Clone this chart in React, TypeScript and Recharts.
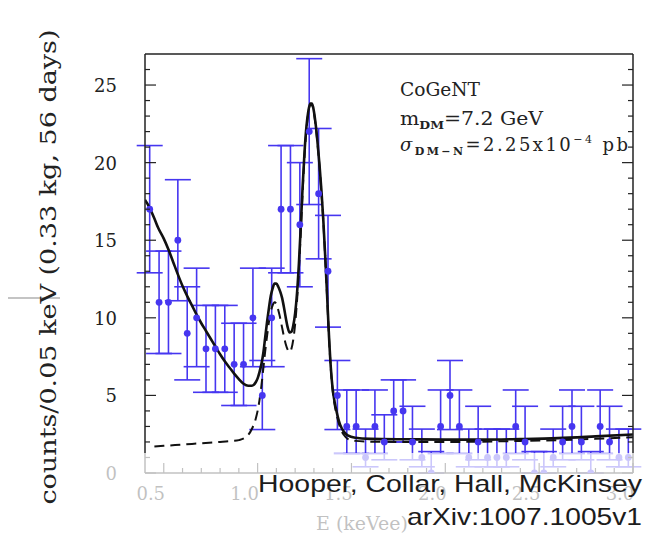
import React from 'react';
import { ComposedChart, XAxis, YAxis, Scatter, Line, ErrorBar } from 'recharts';

// Energy bin centres (keVee), 0.05 keV bins
const binCenters = [
  0.425, 0.475, 0.525, 0.575, 0.625, 0.675, 0.725, 0.775, 0.825, 0.875,
  0.925, 0.975, 1.025, 1.075, 1.125, 1.175, 1.225, 1.275, 1.325, 1.375,
  1.425, 1.475, 1.525, 1.575, 1.625, 1.675, 1.725, 1.775, 1.825, 1.875,
  1.925, 1.975, 2.025, 2.075, 2.125, 2.175, 2.225, 2.275, 2.325, 2.375,
  2.425, 2.475, 2.525, 2.575, 2.625, 2.675, 2.725, 2.775, 2.825, 2.875,
  2.925, 2.975,
];

// Counts per bin
const counts = [
  17, 11, 11, 15, 9, 10, 8, 8, 8, 7,
  7, 10, 5, 10, 17, 17, 16, 22, 18, 13,
  5, 3, 3, 1, 3, 2, 4, 4, 2, 1,
  0, 3, 5, 3, 1, 2, 1, 1, 1, 3,
  2, 0, 0, 1, 2, 3, 2, 0, 3, 2,
  1, 1,
];

// Lower and upper ends of the error interval for each bin
const lowerBounds = [
  12.9, 7.7, 7.7, 11.1, 6.0, 6.85, 5.2, 5.2, 5.2, 4.35,
  4.35, 6.85, 2.8, 6.85, 12.9, 12.9, 12.0, 17.3, 13.8, 9.4,
  2.8, 1.25, 1.25, 0.4, 1.25, 0.85, 2.0, 2.0, 0.85, 0.4,
  0.0, 1.25, 2.8, 1.25, 0.4, 0.85, 0.4, 0.4, 0.4, 1.25,
  0.85, 0.0, 0.0, 0.4, 0.85, 1.25, 0.85, 0.0, 1.25, 0.85,
  0.4, 0.4,
];
const upperBounds = [
  21.1, 14.3, 14.3, 18.9, 12.0, 13.2, 10.8, 10.8, 10.8, 9.65,
  9.65, 13.2, 7.25, 13.2, 21.1, 21.1, 20.0, 26.7, 22.2, 16.6,
  7.25, 5.35, 5.35, 2.83, 5.35, 3.75, 6.0, 6.0, 4.3, 2.83,
  1.38, 5.35, 7.25, 5.35, 2.83, 4.3, 2.83, 2.83, 2.83, 5.35,
  4.3, 1.38, 1.38, 2.83, 4.3, 5.35, 4.3, 1.38, 5.35, 4.3,
  2.83, 2.83,
];

// Total model (dark matter + background): energy and counts
const modelE = [
  0.40, 0.42, 0.45, 0.47, 0.50, 0.525, 0.55, 0.575, 0.60, 0.625,
  0.65, 0.675, 0.70, 0.725, 0.75, 0.775, 0.80, 0.825, 0.85, 0.875,
  0.90, 0.925, 0.95, 0.97, 0.99, 1.00, 1.01, 1.02, 1.03, 1.04,
  1.05, 1.06, 1.07, 1.08, 1.09, 1.10, 1.11, 1.12, 1.13, 1.14,
  1.15, 1.16, 1.17, 1.18, 1.19, 1.20, 1.21, 1.22, 1.23, 1.24,
  1.25, 1.26, 1.27, 1.28, 1.29, 1.30, 1.31, 1.32, 1.33, 1.34,
  1.35, 1.36, 1.37, 1.38, 1.39, 1.40, 1.41, 1.42, 1.44, 1.46,
  1.48, 1.52, 1.60, 1.80, 2.00, 2.20, 2.40, 2.60, 2.80, 3.00,
];
const modelV = [
  17.6, 17.2, 16.4, 15.8, 15.1, 14.4, 13.6, 12.8, 12.05, 11.4,
  10.8, 10.2, 9.65, 9.15, 8.65, 8.15, 7.65, 7.2, 6.8, 6.4,
  6.05, 5.75, 5.62, 5.62, 5.85, 6.1, 6.5, 7.0, 7.7, 8.7,
  9.7, 10.6, 11.4, 11.9, 12.2, 12.2, 12.0, 11.7, 11.3, 10.7,
  10.0, 9.4, 9.05, 9.1, 9.5, 10.3, 11.6, 13.5, 15.9, 18.5,
  20.7, 22.3, 23.3, 23.8, 23.8, 23.3, 22.4, 21.2, 19.8, 18.2,
  16.3, 14.0, 11.5, 8.9, 6.8, 5.4, 4.6, 4.0, 3.1, 2.65,
  2.42, 2.27, 2.2, 2.17, 2.15, 2.15, 2.19, 2.25, 2.36, 2.48,
];

// Background only (cosmogenic L-shell + K-shell lines + flat)
const backgroundE = [
  0.45, 0.50, 0.60, 0.70, 0.80, 0.86, 0.90, 0.93, 0.95, 0.97,
  0.99, 1.00, 1.01, 1.02, 1.03, 1.04, 1.05, 1.06, 1.07, 1.08,
  1.09, 1.10, 1.11, 1.12, 1.13, 1.14, 1.15, 1.16, 1.17, 1.18,
  1.19, 1.20, 1.21, 1.22, 1.23, 1.24, 1.25, 1.26, 1.27, 1.28,
  1.29, 1.30, 1.31, 1.32, 1.33, 1.34, 1.35, 1.36, 1.37, 1.38,
  1.39, 1.40, 1.41, 1.42, 1.44, 1.46, 1.48, 1.52, 1.60, 1.80,
  2.00, 2.20, 2.40, 2.60, 2.80, 3.00,
];
const backgroundV = [
  1.7, 1.75, 1.83, 1.92, 2.0, 2.06, 2.12, 2.25, 2.45, 2.85,
  3.5, 4.0, 4.7, 5.6, 6.7, 7.8, 8.8, 9.7, 10.4, 10.8,
  11.0, 10.9, 10.5, 10.0, 9.4, 8.8, 8.3, 7.95, 7.8, 8.0,
  8.6, 9.6, 11.1, 13.1, 15.5, 18.1, 20.4, 22.1, 23.2, 23.7,
  23.7, 23.2, 22.3, 21.1, 19.7, 18.1, 16.2, 13.9, 11.4, 8.8,
  6.7, 5.3, 4.4, 3.8, 2.9, 2.45, 2.2, 2.07, 2.02, 2.0,
  2.0, 2.02, 2.07, 2.12, 2.2, 2.3,
];

// Axis ticks: majors every 0.5 keV / 5 counts, minors every 0.1 keV / 1 count
const xTicks = [
  0.5, 0.6, 0.7, 0.8, 0.9, 1.0, 1.1, 1.2, 1.3, 1.4, 1.5, 1.6, 1.7,
  1.8, 1.9, 2.0, 2.1, 2.2, 2.3, 2.4, 2.5, 2.6, 2.7, 2.8, 2.9, 3.0,
];
const yTicks = [
  0, 1, 2, 3, 4, 5, 6, 7, 8, 9, 10, 11, 12, 13, 14, 15, 16, 17, 18,
  19, 20, 21, 22, 23, 24, 25, 26,
];

const dataPoints = binCenters.map((e, i) => ({
  e,
  v: counts[i],
  err: [counts[i] - lowerBounds[i], upperBounds[i] - counts[i]],
}));
const modelCurve = modelE.map((e, i) => ({ e, v: modelV[i] }));
const backgroundCurve = backgroundE.map((e, i) => ({ e, v: backgroundV[i] }));

const SERIF = '"DejaVu Serif", "Liberation Serif", serif';
const SANS = '"Liberation Sans", Arial, sans-serif';
const AXIS = '#222';
const BLUE = '#4636f0';
const W = 649;
const H = 532;

const isMajor = (v: number, step: number) =>
  Math.abs(v / step - Math.round(v / step)) < 1e-6;

function BottomTick(props: any) {
  const { x, y, payload } = props;
  const major = isMajor(payload.value, 0.5);
  return (
    <g>
      <line x1={x} x2={x} y1={y} y2={y - (major ? 10 : 5)} stroke={AXIS} strokeWidth={1.2} />
      {major && (
        <text x={x - 13} y={y + 27} textAnchor="middle" fontFamily={SERIF} fontSize={18} fill="#222">
          {payload.value.toFixed(1)}
        </text>
      )}
    </g>
  );
}

function TopTick(props: any) {
  const { x, y, payload } = props;
  const major = isMajor(payload.value, 0.5);
  return <line x1={x} x2={x} y1={y} y2={y + (major ? 10 : 5)} stroke={AXIS} strokeWidth={1.2} />;
}

function LeftTick(props: any) {
  const { x, y, payload } = props;
  const major = isMajor(payload.value, 5);
  return (
    <g>
      <line x1={x} x2={x + (major ? 11 : 5)} y1={y} y2={y} stroke={AXIS} strokeWidth={1.2} />
      {major && (
        <text x={x - 28} y={y + 7} textAnchor="end" fontFamily={SERIF} fontSize={18} fill="#222">
          {payload.value}
        </text>
      )}
    </g>
  );
}

function RightTick(props: any) {
  const { x, y, payload } = props;
  const major = isMajor(payload.value, 5);
  return <line x1={x} x2={x - (major ? 11 : 5)} y1={y} y2={y} stroke={AXIS} strokeWidth={1.2} />;
}

const Dot = (props: any) => {
  const { cx, cy } = props;
  if (cx == null || cy == null) return <g />;
  return <circle cx={cx} cy={cy} r={3.4} fill={BLUE} />;
};

export default function App() {
  return (
    <div style={{ position: 'relative', width: W, height: H }}>
      <ComposedChart
        width={W}
        height={H}
        margin={{ top: 45, right: 23, bottom: 37, left: 77 }}
        style={{ background: '#fff' }}
      >
        <XAxis
          dataKey="e"
          type="number"
          domain={[0.4, 3.0]}
          allowDataOverflow
          ticks={xTicks}
          interval={0}
          height={30}
          tickSize={0}
          tickMargin={0}
          tickLine={false}
          axisLine={{ stroke: AXIS, strokeWidth: 1.5 }}
          tick={<BottomTick />}
        />
        <XAxis
          xAxisId="t"
          orientation="top"
          type="number"
          domain={[0.4, 3.0]}
          allowDataOverflow
          ticks={xTicks}
          interval={0}
          height={1}
          tickSize={0}
          tickMargin={0}
          tickLine={false}
          axisLine={{ stroke: AXIS, strokeWidth: 1.5 }}
          tick={<TopTick />}
        />
        <YAxis
          dataKey="v"
          type="number"
          domain={[0, 27]}
          allowDataOverflow
          ticks={yTicks}
          interval={0}
          width={60}
          tickSize={0}
          tickMargin={0}
          tickLine={false}
          axisLine={{ stroke: AXIS, strokeWidth: 1.5 }}
          tick={<LeftTick />}
        />
        <YAxis
          yAxisId="r"
          orientation="right"
          type="number"
          domain={[0, 27]}
          allowDataOverflow
          ticks={yTicks}
          interval={0}
          width={1}
          tickSize={0}
          tickMargin={0}
          tickLine={false}
          axisLine={{ stroke: AXIS, strokeWidth: 1.5 }}
          tick={<RightTick />}
        />
        <Scatter data={dataPoints} dataKey="v" shape={<Dot />} isAnimationActive={false}>
          <ErrorBar dataKey="err" direction="y" width={13} stroke={BLUE} strokeWidth={1.6} />
        </Scatter>
        <Line
          data={backgroundCurve}
          dataKey="v"
          type="monotone"
          stroke="#111"
          strokeWidth={2}
          strokeDasharray="10 6"
          dot={false}
          activeDot={false}
          isAnimationActive={false}
        />
        <Line
          data={modelCurve}
          dataKey="v"
          type="monotone"
          stroke="#111"
          strokeWidth={2.6}
          dot={false}
          activeDot={false}
          isAnimationActive={false}
        />
      </ComposedChart>

      <svg
        width={W}
        height={H}
        style={{ position: 'absolute', left: 0, top: 0, overflow: 'visible', pointerEvents: 'none' }}
      >
        {/* page edge rules */}
        <line x1={-8} x2={52} y1={290} y2={290} stroke="#8a8a8a" strokeWidth={1.2} />

        {/* parameter box */}
        <text x={392} y={88} fontFamily={SERIF} fontSize={18} fill="#222" textLength={80} lengthAdjust="spacingAndGlyphs">
          CoGeNT
        </text>
        <text x={392} y={117} fontFamily={SERIF} fontSize={18} fill="#222" textLength={143} lengthAdjust="spacingAndGlyphs">
          m<tspan fontSize={11} fontWeight="bold" dy={4}>DM</tspan>
          <tspan dy={-4}>=7.2 GeV</tspan>
        </text>
        <text x={392} y={143} fontFamily={SERIF} fontSize={18} fill="#222" textLength={228} lengthAdjust="spacing">
          <tspan fontStyle="italic">σ</tspan>
          <tspan fontSize={11} fontWeight="bold" dy={4}>DM−N</tspan>
          <tspan dy={-4}>=2.25x10</tspan>
          <tspan fontSize={11} dy={-8}>−4</tspan>
          <tspan dy={8}> pb</tspan>
        </text>

        {/* y axis title */}
        <text
          transform="translate(48, 259) rotate(-90)"
          textAnchor="middle"
          fontFamily={SERIF}
          fontSize={23}
          fill="#222"
          textLength={475}
          lengthAdjust="spacingAndGlyphs"
        >
          counts/0.05 keV (0.33 kg, 56 days)
        </text>

        {/* x axis title */}
        <text x={308} y={522} fontFamily={SERIF} fontSize={19} fill="#222">
          E (keVee)
        </text>

        {/* washed-out strip along the bottom */}
        <rect x={67} y={445} width={600} height={100} fill="#fff" opacity={0.72} />

        {/* credit */}
        <text x={250} y={484} fontFamily={SANS} fontSize={24} fill="#1c1c1c" textLength={384} lengthAdjust="spacingAndGlyphs">
          Hooper, Collar, Hall, McKinsey
        </text>
        <text x={399} y={517} fontFamily={SANS} fontSize={24} fill="#1c1c1c" textLength={235} lengthAdjust="spacingAndGlyphs">
          arXiv:1007.1005v1
        </text>
      </svg>
    </div>
  );
}
